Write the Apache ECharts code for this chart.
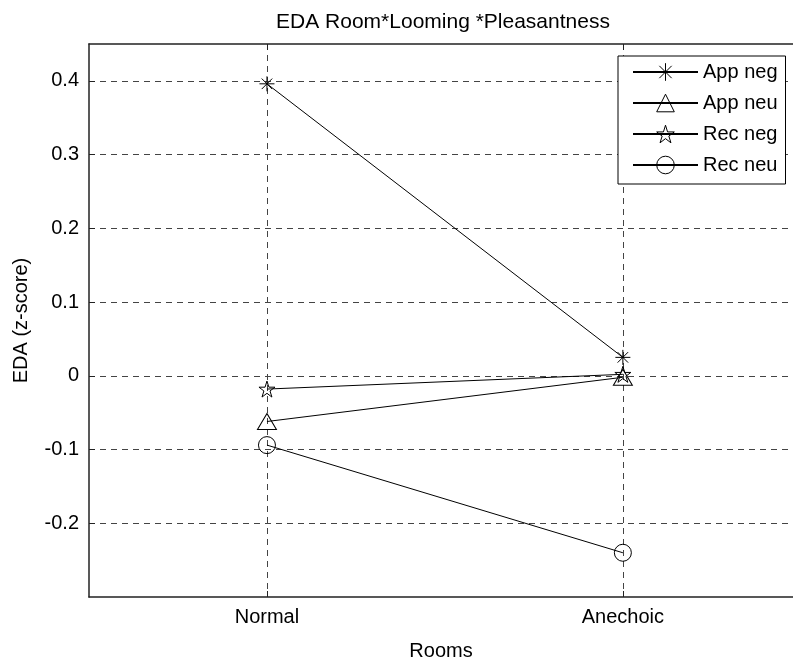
<!DOCTYPE html>
<html>
<head>
<meta charset="utf-8">
<title>EDA Room*Looming *Pleasantness</title>
<script src="https://cdn.jsdelivr.net/npm/echarts@6/dist/echarts.min.js"></script>
<style>
  html, body { margin: 0; padding: 0; background: #fff; overflow: hidden; }
  #chart { width: 793px; height: 666px; }
</style>
</head>
<body>
<div id="chart"></div>
<script>
// categories on x (placed at 1 and 2 like matlab)
var rooms = ['Normal', 'Anechoic']
var roomPos = [1, 2]
var yTicks = [-0.2, -0.1, 0, 0.1, 0.2, 0.3, 0.4]

// series values
var appNeg = [0.396, 0.025]
var appNeu = [-0.062, -0.002]
var recNeg = [-0.018, 0.002]
var recNeu = [-0.094, -0.240]

var seriesNames = ['App neg', 'App neu', 'Rec neg', 'Rec neu']
var seriesValues = [appNeg, appNeu, recNeg, recNeu]

// matlab style markers
var asterisk = 'path://M0,-1L0,1M-1,0L1,0M-0.7,-0.7L0.7,0.7M-0.7,0.7L0.7,-0.7'
var star = 'path://M0,-1L0.2245,-0.309L0.951,-0.309L0.363,0.118L0.588,0.809L0,0.382L-0.588,0.809L-0.363,0.118L-0.951,-0.309L-0.2245,-0.309Z'
var markers = [asterisk, 'triangle', star, 'circle']
var markerSizes = [15, [19, 16], 16, 17]

var font = 'Liberation Sans, Arial, Helvetica, sans-serif'
var gridLine = { show: true, lineStyle: { color: '#444', width: 1, type: [6, 5] } }
var boxLine = { show: true, onZero: false, lineStyle: { color: '#222', width: 1.5 } }

var series = []
for (var i = 0; i < seriesNames.length; i++) {
  var pts = []
  for (var j = 0; j < rooms.length; j++) {
    pts.push([roomPos[j], seriesValues[i][j]])
  }
  series.push({
    name: seriesNames[i],
    type: 'line',
    data: pts,
    symbol: markers[i],
    symbolSize: markerSizes[i],
    showAllSymbol: true,
    lineStyle: { color: '#000', width: 1 },
    itemStyle: { color: 'transparent', borderColor: '#000', borderWidth: 1 },
    emphasis: { disabled: true },
    z: 5
  })
}

var chart = echarts.init(document.getElementById('chart'))
var option = {
  animation: false,
  backgroundColor: '#fff',
  textStyle: { fontFamily: font },
  title: {
    text: 'EDA Room*Looming *Pleasantness',
    left: 438,
    textAlign: 'center',
    top: 7,
    textStyle: { fontFamily: font, fontSize: 21, fontWeight: 'normal', color: '#000' }
  },
  legend: {
    data: seriesNames,
    orient: 'vertical',
    left: 618,
    top: 56,
    padding: [6, 8, 9, 14],
    itemWidth: 65,
    itemHeight: 22,
    itemGap: 11,
    backgroundColor: '#fff',
    borderColor: '#000',
    borderWidth: 1,
    itemStyle: { borderWidth: 1 },
    textStyle: { fontFamily: font, fontSize: 20, color: '#000' },
    z: 10
  },
  // the right edge of the matlab box falls just outside the picture
  grid: { left: 89, top: 44, right: 0, height: 563, containLabel: false },
  xAxis: [
    {
      type: 'value',
      min: 0.5,
      max: 2.478,
      name: 'Rooms',
      nameLocation: 'middle',
      nameGap: 44,
      nameTextStyle: { fontFamily: font, fontSize: 20, color: '#000' },
      axisLine: boxLine,
      axisTick: { show: true, inside: true, length: 6, customValues: roomPos, lineStyle: { color: '#222' } },
      axisLabel: {
        customValues: roomPos,
        fontFamily: font, fontSize: 20, color: '#000', margin: 10,
        formatter: function (v) { return rooms[roomPos.indexOf(v)] || '' }
      },
      splitLine: gridLine
    },
    {
      type: 'value',
      position: 'top',
      min: 0.5,
      max: 2.478,
      axisLine: boxLine,
      axisTick: { show: true, inside: true, length: 6, customValues: roomPos, lineStyle: { color: '#222' } },
      axisLabel: { show: false },
      splitLine: { show: false }
    }
  ],
  yAxis: [
    {
      type: 'value',
      min: -0.3,
      max: 0.45,
      interval: 0.1,
      name: 'EDA (z-score)',
      nameLocation: 'middle',
      nameGap: 58,
      nameTextStyle: { fontFamily: font, fontSize: 20, color: '#000' },
      axisLine: boxLine,
      axisTick: { show: true, inside: true, length: 6, customValues: yTicks, lineStyle: { color: '#222' } },
      axisLabel: {
        customValues: yTicks,
        fontFamily: font, fontSize: 20, color: '#000', margin: 10,
        formatter: function (v) { return v === 0 ? '0' : (Math.round(v * 10) / 10).toString() }
      },
      splitLine: gridLine
    }
  ],
  series: series
}
chart.setOption(option)
</script>
</body>
</html>
